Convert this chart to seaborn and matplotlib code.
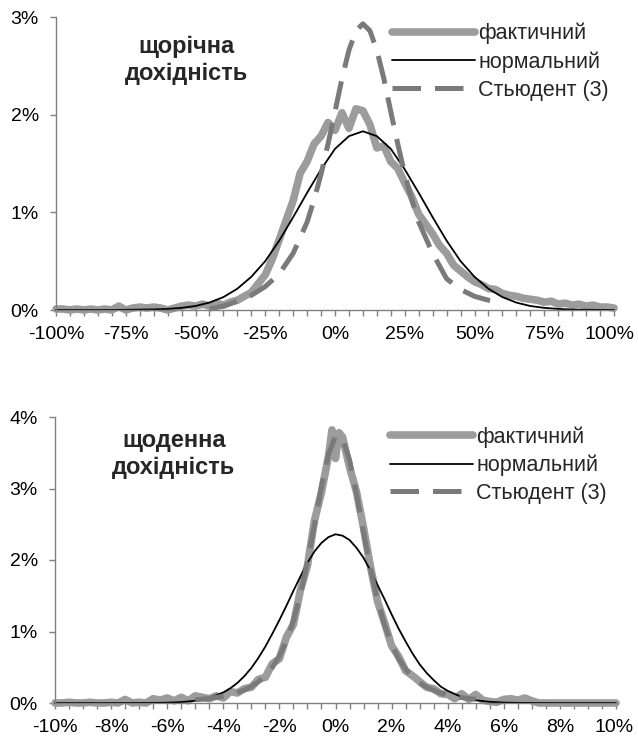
import numpy as np
import pandas as pd
import matplotlib
matplotlib.use("Agg")
import matplotlib.pyplot as plt
import matplotlib.transforms as mtransforms
import seaborn as sns

# ---------------- data: annual returns (top panel) ----------------
annual_x = [-100, -97.5, -95, -92.5, -90, -87.5, -85, -82.5, -80, -77.5, -75, -72.5, -70, -67.5,
            -65, -62.5, -60, -57.5, -55, -52.5, -50, -47.5, -45, -42.5, -40, -37.5, -35, -32.5,
            -30, -27.5, -25, -22.5, -20, -17.5, -15, -12.5, -10, -7.5, -5, -2.5, 0, 2.5, 5, 7.5,
            10, 12.5, 15, 17.5, 20, 22.5, 25, 27.5, 30, 32.5, 35, 37.5, 40, 42.5, 45, 47.5, 50,
            52.5, 55, 57.5, 60, 62.5, 65, 67.5, 70, 72.5, 75, 77.5, 80, 82.5, 85, 87.5, 90, 92.5,
            95, 97.5, 100]
annual_actual = [0.01, 0.01, 0.00, 0.01, 0.00, 0.01, 0.00, 0.01, 0.00, 0.04, 0.00, 0.02, 0.03, 0.02,
                 0.03, 0.02, 0.00, 0.02, 0.04, 0.05, 0.04, 0.06, 0.04, 0.07, 0.05, 0.08, 0.10, 0.14,
                 0.18, 0.27, 0.36, 0.52, 0.72, 0.92, 1.12, 1.40, 1.52, 1.70, 1.78, 1.92, 1.84, 2.02,
                 1.86, 2.06, 2.04, 1.90, 1.66, 1.68, 1.52, 1.45, 1.30, 1.16, 0.98, 0.88, 0.78, 0.66,
                 0.58, 0.46, 0.40, 0.34, 0.29, 0.26, 0.22, 0.21, 0.17, 0.15, 0.14, 0.12, 0.11, 0.10,
                 0.08, 0.09, 0.06, 0.07, 0.05, 0.06, 0.04, 0.05, 0.03, 0.03, 0.02]

annual_norm_x = [-100, -90, -80, -75, -70, -65, -60, -55, -50, -45, -40, -35, -30, -25, -20, -15,
                 -10, -5, 0, 5, 10, 15, 20, 25, 30, 35, 40, 45, 50, 55, 60, 65, 70, 75, 80, 85,
                 90, 95, 100]
annual_normal = [0.0, 0.0, 0.0, 0.002, 0.004, 0.006, 0.011, 0.022, 0.041, 0.076, 0.132, 0.218,
                 0.34, 0.50, 0.71, 0.95, 1.20, 1.44, 1.65, 1.78, 1.83, 1.78, 1.65, 1.44, 1.20,
                 0.95, 0.71, 0.50, 0.34, 0.218, 0.132, 0.076, 0.041, 0.022, 0.011, 0.005, 0.002,
                 0.001, 0.0]

annual_t_x = [-45, -40, -35, -30, -25, -20, -15, -10, -7.5, -5, -2.5, 0, 2.5, 5, 7.5, 10, 12.5,
              15, 17.5, 20, 22.5, 25, 27.5, 30, 35, 40, 45, 50, 55, 60]
annual_student = [0.01, 0.04, 0.09, 0.15, 0.24, 0.37, 0.58, 0.90, 1.13, 1.39, 1.70, 2.03, 2.37,
                  2.66, 2.86, 2.93, 2.86, 2.66, 2.37, 2.03, 1.70, 1.39, 1.13, 0.90, 0.58, 0.32,
                  0.21, 0.14, 0.10, 0.07]

annual_xticks = [-100, -75, -50, -25, 0, 25, 50, 75, 100]
annual_xlabels = ["-100%", "-75%", "-50%", "-25%", "0%", "25%", "50%", "75%", "100%"]
annual_yticks = [0, 1, 2, 3]
annual_ylabels = ["0%", "1%", "2%", "3%"]

# ---------------- data: daily returns (bottom panel) ----------------
daily_x = [-10, -9.75, -9.5, -9.25, -9, -8.75, -8.5, -8.25, -8, -7.75, -7.5, -7.25, -7, -6.75,
           -6.5, -6.25, -6, -5.75, -5.5, -5.25, -5, -4.75, -4.5, -4.25, -4, -3.75, -3.5, -3.25,
           -3, -2.75, -2.5, -2.25, -2, -1.75, -1.5, -1.25, -1, -0.75, -0.5, -0.25, -0.125, 0,
           0.125, 0.25, 0.5, 0.75, 1, 1.25, 1.5, 1.75, 2, 2.25, 2.5, 2.75, 3, 3.25, 3.5, 3.75,
           4, 4.25, 4.5, 4.75, 5, 5.25, 5.5, 5.75, 6, 6.25, 6.5, 6.75, 7, 7.25, 7.5, 8, 9, 10]
daily_actual = [0.0, 0.0, 0.01, 0.0, 0.0, 0.01, 0.0, 0.0, 0.01, 0.0, 0.05, 0.0, 0.01, 0.0,
                0.06, 0.04, 0.07, 0.03, 0.08, 0.03, 0.10, 0.08, 0.06, 0.10, 0.07, 0.16, 0.14, 0.20,
                0.22, 0.33, 0.36, 0.55, 0.62, 0.92, 1.10, 1.58, 1.92, 2.55, 2.95, 3.45, 3.82, 3.42,
                3.78, 3.72, 3.30, 2.95, 2.45, 1.90, 1.42, 1.12, 0.80, 0.65, 0.45, 0.38, 0.30, 0.22,
                0.20, 0.13, 0.12, 0.06, 0.13, 0.05, 0.12, 0.04, 0.02, 0.01, 0.05, 0.06, 0.04, 0.07,
                0.03, 0.0, 0.0, 0.0, 0.0, 0.0]

daily_norm_x = [-10, -8, -7, -6.5, -6, -5.5, -5, -4.5, -4, -3.75, -3.5, -3.25, -3, -2.75, -2.5,
                -2.25, -2, -1.75, -1.5, -1.25, -1, -0.75, -0.5, -0.25, 0, 0.25, 0.5, 0.75, 1,
                1.25, 1.5, 1.75, 2, 2.25, 2.5, 2.75, 3, 3.25, 3.5, 3.75, 4, 4.5, 5, 5.5, 6, 6.5,
                7, 8, 10]
daily_normal = [0.0, 0.0, 0.001, 0.002, 0.005, 0.013, 0.032, 0.071, 0.148, 0.206, 0.28, 0.375,
                0.49, 0.63, 0.79, 0.97, 1.16, 1.36, 1.57, 1.77, 1.96, 2.12, 2.24, 2.32, 2.36,
                2.34, 2.28, 2.17, 2.03, 1.85, 1.65, 1.45, 1.24, 1.04, 0.86, 0.69, 0.54, 0.42,
                0.32, 0.23, 0.17, 0.083, 0.038, 0.016, 0.006, 0.002, 0.001, 0.0, 0.0]

daily_t_x = [-5, -4.75, -4.5, -4.25, -4, -3.75, -3.5, -3.25, -3, -2.75, -2.5, -2.25, -2, -1.75,
             -1.5, -1.25, -1, -0.75, -0.5, -0.25, 0, 0.25, 0.5, 0.75, 1, 1.25, 1.5, 1.75, 2,
             2.25, 2.5, 2.75, 3, 3.25, 3.5, 3.75, 4, 4.25, 4.5, 4.75, 5]
daily_student = [0.045, 0.053, 0.064, 0.078, 0.095, 0.117, 0.146, 0.183, 0.232, 0.297, 0.384,
                 0.50, 0.66, 0.87, 1.15, 1.52, 1.97, 2.49, 3.03, 3.48, 3.73, 3.70, 3.40, 2.92,
                 2.38, 1.87, 1.44, 1.09, 0.82, 0.62, 0.475, 0.365, 0.283, 0.221, 0.175, 0.140,
                 0.112, 0.091, 0.075, 0.062, 0.051]

daily_xticks = [-10, -8, -6, -4, -2, 0, 2, 4, 6, 8, 10]
daily_xlabels = ["-10%", "-8%", "-6%", "-4%", "-2%", "0%", "2%", "4%", "6%", "8%", "10%"]
daily_yticks = [0, 1, 2, 3, 4]
daily_ylabels = ["0%", "1%", "2%", "3%", "4%"]

series_names = ["фактичний", "нормальний", "Стьюдент (3)"]
titles = ["щорічна\nдохідність", "щоденна\nдохідність"]

# ---------------- styling ----------------
sns.set_style("white")
plt.rcParams['font.family'] = ['Liberation Sans', 'DejaVu Sans']

ACTUAL_C = "#9c9c9c"
NORMAL_C = "#000000"
T_C = "#7a7a7a"
AXIS_C = "#808080"
TICK_FS = 14
LEG_FS = 15.5
TITLE_FS = 17

fig = plt.figure(figsize=(6.38, 7.42), dpi=100)
ax1 = fig.add_axes([56 / 638, 1 - 310 / 742, 558 / 638, 293 / 742])
ax2 = fig.add_axes([55 / 638, 1 - 703 / 742, 561 / 638, 286 / 742])


def draw(ax, ax_x, act, nx, nrm, tx, tst, xlim, ylim, xticks, xlabels, minor_step,
         yticks, ylabels, title, title_xy, leg_xy, last_shift):
    sns.lineplot(x=ax_x, y=act, ax=ax, color=ACTUAL_C, linewidth=5.5,
                 label=series_names[0], sort=False, estimator=None)
    sns.lineplot(x=nx, y=nrm, ax=ax, color=NORMAL_C, linewidth=1.3,
                 label=series_names[1], sort=False, estimator=None)
    sns.lineplot(x=tx, y=tst, ax=ax, color=T_C, linewidth=3.6,
                 label=series_names[2], sort=False, estimator=None,
                 linestyle=(0, (5.7, 2.8)))
    ax.set_xlim(*xlim)
    ax.set_ylim(*ylim)
    ax.set_xticks(xticks)
    ax.set_xticklabels(xlabels, fontsize=TICK_FS)
    ax.set_xticks(np.arange(xlim[0], xlim[1] + minor_step / 2, minor_step), minor=True)
    ax.set_yticks(yticks)
    ax.set_yticklabels(ylabels, fontsize=TICK_FS)
    for s in ["top", "right"]:
        ax.spines[s].set_visible(False)
    for s in ["left", "bottom"]:
        ax.spines[s].set_color(AXIS_C)
        ax.spines[s].set_linewidth(1.0)
    ax.tick_params(axis="both", which="both", direction="out", color=AXIS_C,
                   length=4.3, width=1.0, labelcolor="black")
    ax.tick_params(axis="x", which="both", bottom=True, pad=7)
    ax.tick_params(axis="y", which="both", left=True, pad=8)
    ax.set_xlabel("")
    ax.set_ylabel("")
    ax.margins(0)
    # nudge the last x label so it stays inside the figure
    last = ax.get_xticklabels()[-1]
    off = mtransforms.ScaledTranslation(last_shift / 100.0, 0, fig.dpi_scale_trans)
    last.set_transform(last.get_transform() + off)
    ax.text(title_xy[0], title_xy[1], title, transform=ax.transAxes, ha="center", va="top",
            fontsize=TITLE_FS, fontweight="bold", linespacing=1.22)
    leg = ax.legend(loc="upper left", bbox_to_anchor=leg_xy, frameon=False,
                    fontsize=LEG_FS, handlelength=3.85, handletextpad=0.15,
                    labelspacing=0.32, borderaxespad=0.0, borderpad=0.0)
    return leg


draw(ax1, annual_x, annual_actual, annual_norm_x, annual_normal, annual_t_x, annual_student,
     (-100, 100), (0, 3), annual_xticks, annual_xlabels, 5, annual_yticks, annual_ylabels,
     titles[0], (0.234, 0.94), (0.602, 0.98), -4)
draw(ax2, daily_x, daily_actual, daily_norm_x, daily_normal, daily_t_x, daily_student,
     (-10, 10), (0, 4), daily_xticks, daily_xlabels, 0.5, daily_yticks, daily_ylabels,
     titles[1], (0.212, 0.958), (0.597, 0.968), -2)

for ax in (ax1, ax2):
    for line in ax.get_lines():
        line.set_clip_on(False)

fig.savefig("out.png", dpi=100)
